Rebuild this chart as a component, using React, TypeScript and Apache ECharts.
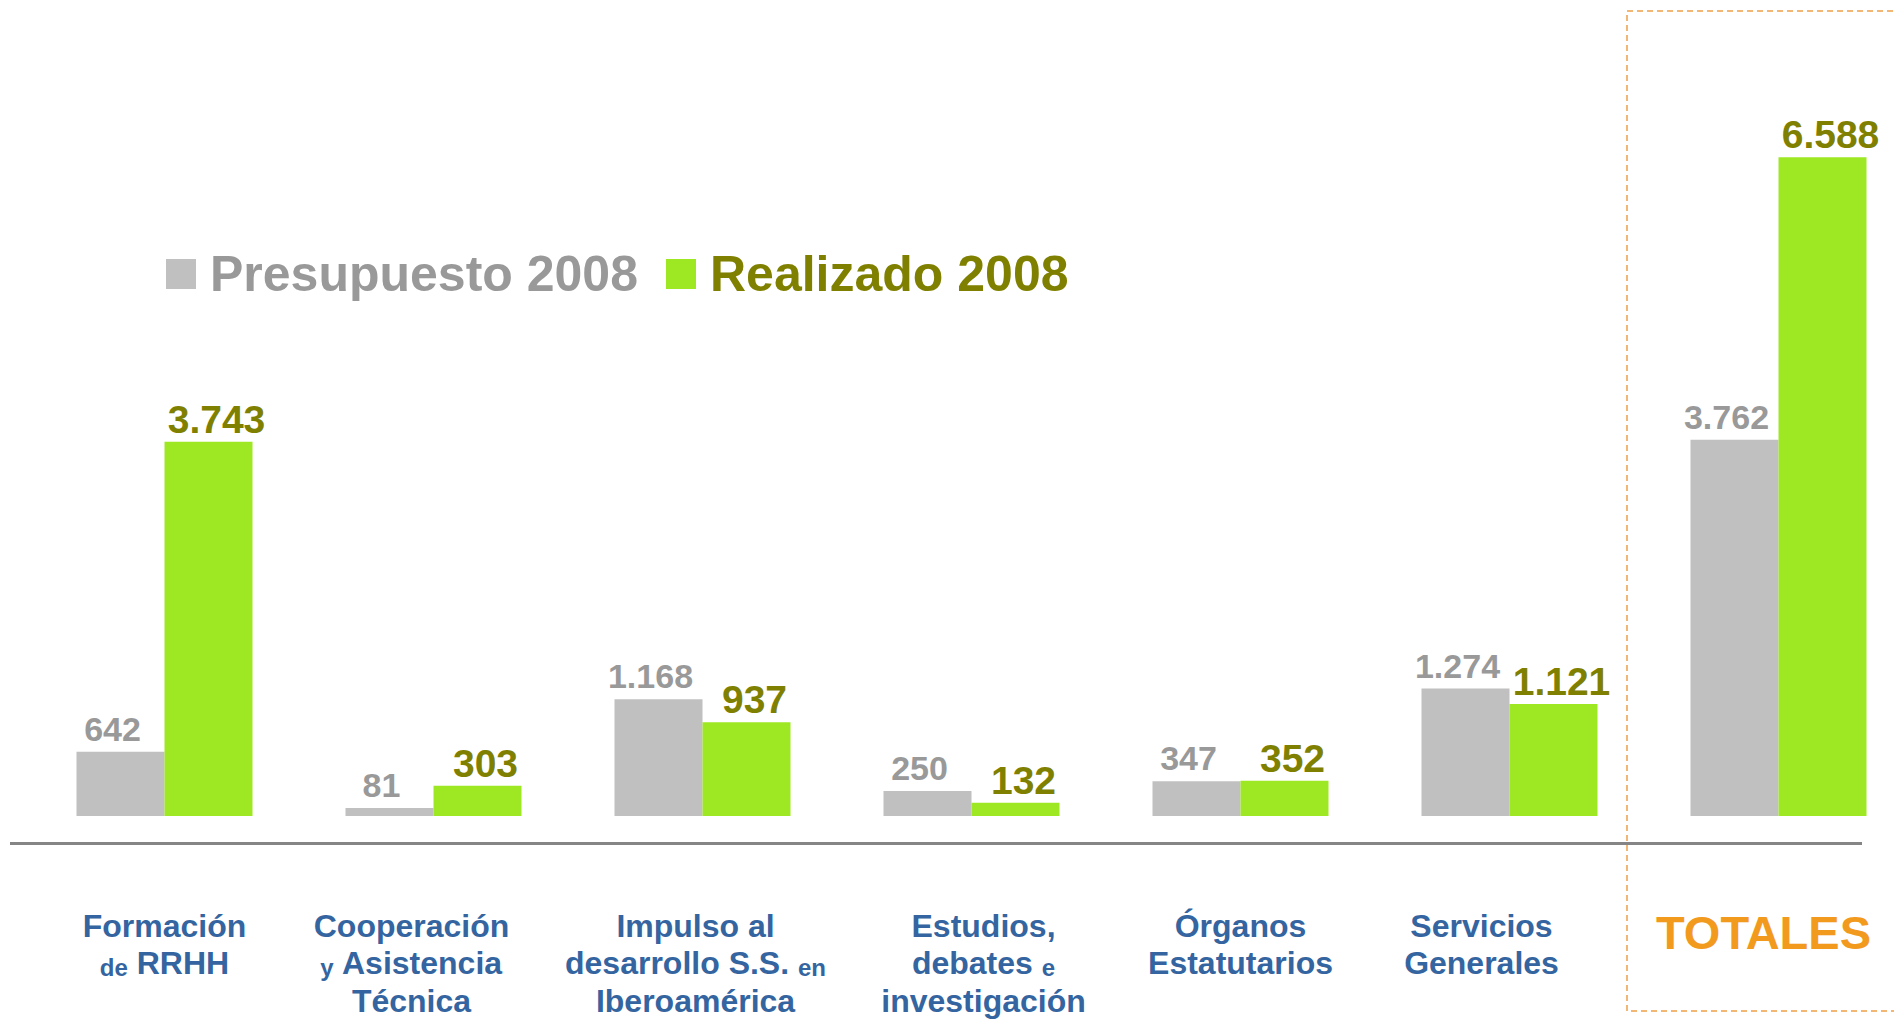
import React, { useEffect, useRef } from "react";
import * as echarts from "echarts";

const categories = [
  "{a|Formación}\n{s|de}{a| RRHH}",
  "{a|Cooperación}\n{s|y}{a| Asistencia}\n{a|Técnica}",
  "{a|Impulso al}\n{a|desarrollo S.S. }{s|en}\n{a|Iberoamérica}",
  "{a|Estudios,}\n{a|debates }{s|e}\n{a|investigación}",
  "{a|Órganos}\n{a|Estatutarios}",
  "{a|Servicios}\n{a|Generales}",
  "{t|TOTALES}",
];
const presupuesto = [642, 81, 1168, 250, 347, 1274, 3762];
const realizado = [3743, 303, 937, 132, 352, 1121, 6588];
const seriesNames = ["Presupuesto 2008", "Realizado 2008"];
// horizontal nudge of each category's text box (layout, px)
const labelShift = [0, -22, -7, 12, 0, -28, 0];

const FONT = "'Liberation Sans', Arial, sans-serif";
const fmt = (v: number) => {
  const s = String(Math.round(v));
  return s.replace(/\B(?=(\d{3})+(?!\d))/g, ".");
};

export default function App() {
  const ref = useRef<HTMLDivElement>(null);
  useEffect(() => {
    if (!ref.current) return;
    const chart = echarts.init(ref.current, null, { renderer: "svg" });
    const xData = categories.map((c, i) => {
      const d = labelShift[i];
      const padding =
        d > 0 ? [0, 0, 0, 2 * d] : d < 0 ? [0, -2 * d, 0, 0] : [0, 0, 0, 0];
      return { value: c, textStyle: { padding } };
    });
    chart.setOption({
      animation: false,
      backgroundColor: "#ffffff",
      textStyle: { fontFamily: FONT },
      grid: {
        left: 30,
        top: 116,
        width: 1883,
        height: 700,
        containLabel: false,
        outerBoundsMode: "none",
      },
      legend: {
        left: 166,
        top: 249,
        padding: 0,
        itemWidth: 30,
        itemHeight: 30,
        itemGap: 28,
        icon: "rect",
        selectedMode: false,
        textStyle: {
          fontFamily: FONT,
          fontSize: 50,
          fontWeight: "bold",
          padding: [0, 0, 0, 9],
        },
        data: [
          { name: seriesNames[0], textStyle: { color: "#999999" } },
          { name: seriesNames[1], textStyle: { color: "#808000" } },
        ],
      },
      xAxis: {
        type: "category",
        data: xData,
        axisLine: { show: false },
        axisTick: { show: false },
        axisLabel: {
          interval: 0,
          margin: 88,
          verticalAlign: "top",
          fontFamily: FONT,
          rich: {
            a: {
              fontFamily: FONT,
              fontSize: 32,
              fontWeight: "bold",
              color: "#3465a0",
              lineHeight: 37.5,
              verticalAlign: "bottom",
            },
            s: {
              fontFamily: FONT,
              fontSize: 24,
              fontWeight: "bold",
              color: "#3465a0",
              lineHeight: 32,
              verticalAlign: "bottom",
            },
            t: {
              fontFamily: FONT,
              fontSize: 47,
              fontWeight: "bold",
              color: "#f29a1e",
              lineHeight: 56,
              padding: [0, 30, 0, 0],
            },
          },
        },
      },
      yAxis: {
        type: "value",
        min: 0,
        max: 7000,
        show: false,
        splitLine: { show: false },
      },
      series: [
        {
          name: seriesNames[0],
          type: "bar",
          data: presupuesto,
          barWidth: 88,
          barGap: "0%",
          itemStyle: { color: "#c0c0c0" },
          label: {
            show: true,
            position: "top",
            distance: 6,
            offset: [-8, 0],
            fontFamily: FONT,
            fontSize: 34,
            fontWeight: "bold",
            color: "#999999",
            formatter: (p: any) => fmt(p.value),
          },
        },
        {
          name: seriesNames[1],
          type: "bar",
          data: realizado,
          barWidth: 88,
          barGap: "0%",
          itemStyle: { color: "#9ee823" },
          label: {
            show: true,
            position: "top",
            distance: 3,
            offset: [8, 0],
            fontFamily: FONT,
            fontSize: 39,
            fontWeight: "bold",
            color: "#808000",
            formatter: (p: any) => fmt(p.value),
          },
        },
      ],
      graphic: [
        {
          type: "line",
          shape: { x1: 10, y1: 843.5, x2: 1862, y2: 843.5 },
          style: { stroke: "#858585", lineWidth: 3 },
          silent: true,
        },
        {
          type: "rect",
          shape: { x: 1627, y: 11, width: 400, height: 1000 },
          style: {
            fill: "none",
            stroke: "#f0a048",
            lineWidth: 1.5,
            lineDash: [6, 4],
          },
          silent: true,
        },
      ],
    });
    return () => chart.dispose();
  }, []);
  return (
    <div
      ref={ref}
      style={{ position: "fixed", left: 0, top: 0, width: 1894, height: 1020 }}
    />
  );
}
